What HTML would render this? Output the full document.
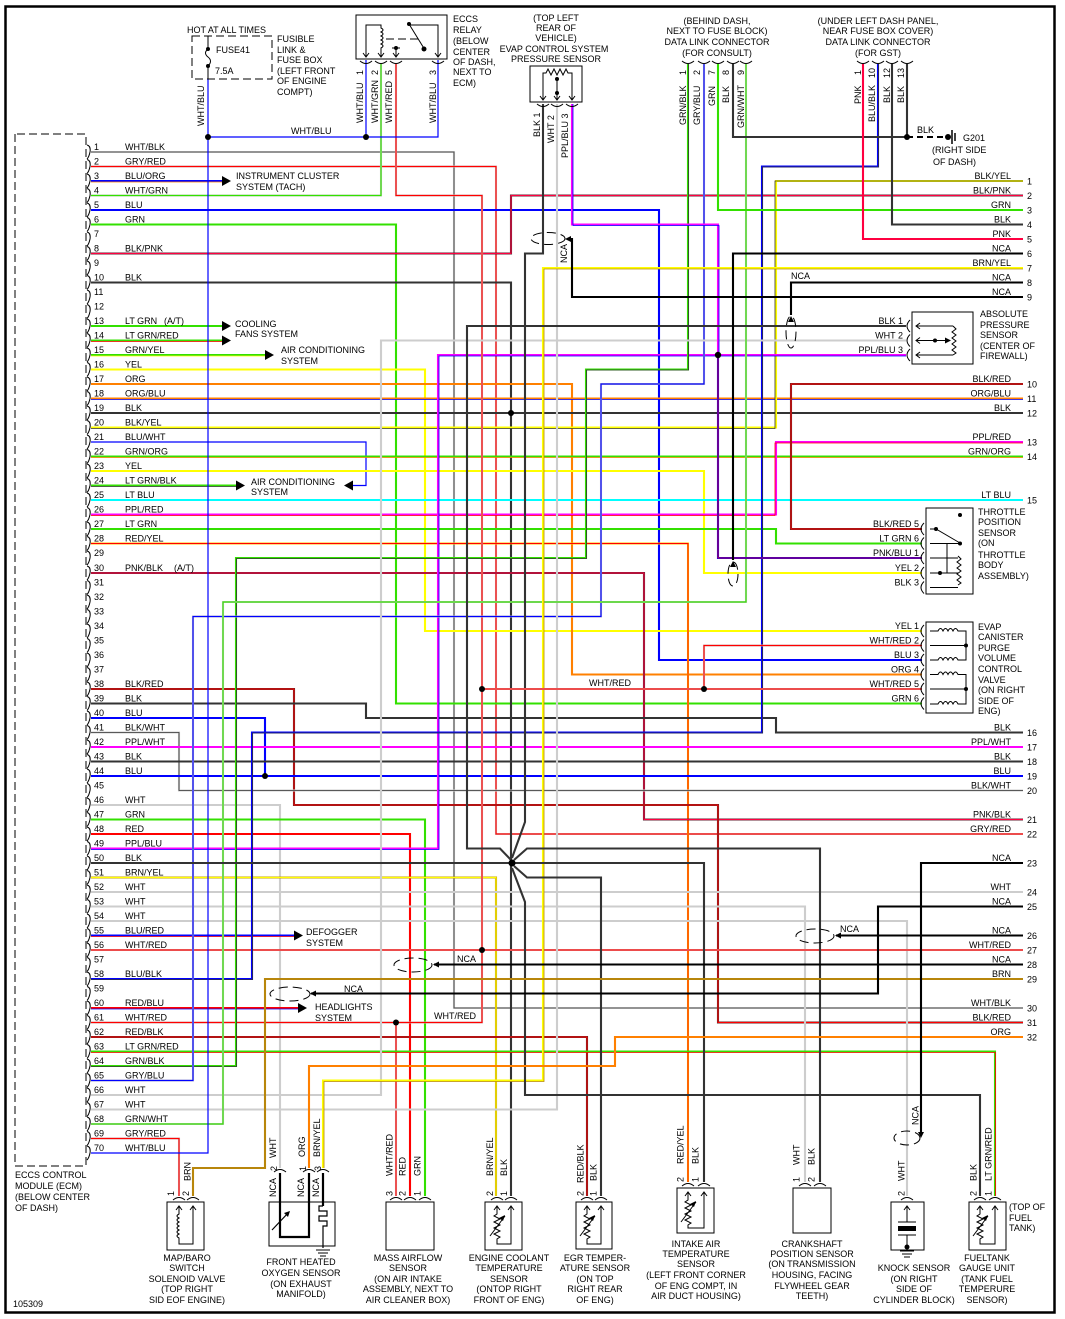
<!DOCTYPE html>
<html><head><meta charset="utf-8">
<style>
html,body{margin:0;padding:0;background:#fff}
svg{display:block}
text{font-family:"Liberation Sans",Arial,sans-serif;font-size:9px;fill:#000}
.l polyline,.l path,.l line{fill:none;stroke-width:2.1;stroke-linejoin:miter}
.K{stroke:#333}.N{stroke:#000}.W{stroke:#cdcdcd}.B{stroke:#0000ff}.G{stroke:#33e000}.R{stroke:#ff0000}.Y{stroke:#ffff00}.O{stroke:#ff8000}.P{stroke:#ff00ff}.C{stroke:#00ffff}.BR{stroke:#b8860b}.PK{stroke:#ff0040}
.l .s{stroke-width:0.8}.l .t{stroke-width:1.2}
.e{fill:none;stroke:#000;stroke-width:1}
.d{fill:none;stroke:#000;stroke-width:1;stroke-dasharray:8 4}
.m{text-anchor:middle}.en{text-anchor:end}
</style></head><body>
<svg width="1065" height="1319" viewBox="0 0 1065 1319" xmlns="http://www.w3.org/2000/svg">
<rect x="0" y="0" width="1065" height="1319" fill="#fff"/>

<g class="l">
<polyline class="W" points="91,152 454,152 454,1008 1023,1008"/><polyline class="K s" points="91,152 454,152 454,1008 1023,1008"/>
<polyline class="W" points="91,166.5 496,166.5 496,834 1023,834"/><polyline class="R t" points="91,166.5 496,166.5 496,834 1023,834"/>
<polyline class="B" points="91,181 223,181"/><polyline class="O s" points="91,182 223,182"/>
<polyline class="W" points="91,195.5 381,195.5 381,64"/><polyline class="G t" points="91,195.5 381,195.5 381,64"/>
<polyline class="B" points="91,210 659,210 659,660 922,660"/>
<polyline class="G" points="91,224.5 396,224.5 396,703.5 922,703.5"/>
<polyline class="K" points="91,253.5 511,253.5 511,195.5 1023,195.5"/><polyline class="PK t" points="91,253.5 511,253.5 511,195.5 1023,195.5"/>
<polyline class="K" points="91,282.5 511,282.5 511,1196"/>
<polyline class="G" points="91,326 223,326"/>
<polyline class="G" points="91,340.5 223,340.5"/><polyline class="R s" points="91,341.5 223,341.5"/>
<polyline class="G" points="91,355 266,355"/><polyline class="Y s" points="91,356 266,356"/>
<polyline class="Y" points="91,369.5 425,369.5 425,631 922,631"/>
<polyline class="O" points="91,384 572,384 572,674.5 922,674.5"/>
<polyline class="O" points="91,398.5 1023,398.5"/><polyline class="B s" points="91,399.5 1023,399.5"/>
<polyline class="K" points="91,413 1023,413"/>
<polyline class="Y" points="91,427.5 776,427.5 776,181 1023,181"/><polyline class="K s" points="91,428.5 775,428.5 775,181 1023,181"/>
<polyline class="B t" points="91,442 366,442 366,485.5 352,485.5"/>
<polyline class="G" points="91,456.5 1023,456.5"/><polyline class="O s" points="91,457.5 1023,457.5"/>
<polyline class="Y" points="91,471 704,471 704,573 922,573"/>
<polyline class="G" points="91,485.5 237,485.5"/><polyline class="K s" points="91,486.5 237,486.5"/>
<polyline class="C" points="91,500 1023,500"/>
<polyline class="P" points="91,514.5 776,514.5 776,442 1023,442"/><polyline class="R s" points="91,515.5 775,515.5 775,443 1023,443"/>
<polyline class="G" points="91,529 776,529 776,543.5 922,543.5"/>
<polyline class="Y" points="91,543.5 688,543.5 688,1182"/><polyline class="R t" points="91,543.5 688,543.5 688,1182"/>
<polyline class="K" points="91,573 644,573 644,819.5 1023,819.5"/><polyline class="PK t" points="91,573 644,573 644,819.5 1023,819.5"/>
<polyline class="K" points="91,689 294,689 294,805 718,805 718,1022.5 1023,1022.5"/><polyline class="R t" points="91,689 294,689 294,805 718,805 718,1022.5 1023,1022.5"/>
<polyline class="K" points="91,703.5 366,703.5 366,718 776,718 776,732.5 1023,732.5"/>
<polyline class="B" points="91,718 265,718 265,776"/>
<polyline class="W" points="91,732.5 179,732.5 179,790.5 1023,790.5"/><polyline class="K s" points="91,732.5 179,732.5 179,790.5 1023,790.5"/>
<polyline class="P" points="91,747 1023,747"/>
<polyline class="K" points="91,761.5 1023,761.5"/>
<polyline class="B" points="91,776 1023,776"/>
<polyline class="W" points="91,805 280,805 280,1168"/>
<polyline class="G" points="91,819.5 425,819.5 425,1196"/>
<polyline class="R" points="91,834 410,834 410,1196"/>
<polyline class="P" points="91,848.5 438,848.5 438,355 906,355"/><polyline class="B s" points="91,849.5 439,849.5 439,356 906,356"/>
<polyline class="BR" points="91,877.5 496,877.5 496,1196"/><polyline class="Y t" points="91,877.5 496,877.5 496,1196"/>
<polyline class="W" points="91,892 1023,892"/>
<polyline class="W" points="91,906.5 805,906.5 805,1182"/>
<polyline class="W" points="91,921 907,921 907,1196"/>
<polyline class="B" points="91,935.5 295,935.5"/><polyline class="R s" points="91,936.5 295,936.5"/>
<polyline class="W" points="91,950 1023,950"/><polyline class="R t" points="91,950 1023,950"/>
<polyline class="B" points="91,979 252,979 252,732.5 762,732.5 762,166.5 878,166.5 878,64"/><polyline class="K s" points="91,979.5 252.5,979.5 252.5,733 762.5,733 762.5,167 878.5,167 878.5,64"/>
<polyline class="R" points="91,1008 299,1008"/><polyline class="B s" points="91,1009 299,1009"/>
<polyline class="W" points="91,1022.5 482,1022.5 482,195.5 396,195.5 396,64"/><polyline class="R t" points="91,1022.5 482,1022.5 482,195.5 396,195.5 396,64"/>
<polyline class="W" points="396,1022.5 396,1196"/><polyline class="R t" points="396,1022.5 396,1196"/>
<polyline class="K" points="91,1037 587,1037 587,1196"/><polyline class="R t" points="91,1037 587,1037 587,1196"/>
<polyline class="G" points="91,1051.5 995,1051.5 995,1196"/><polyline class="R s" points="91,1052.5 995.5,1052.5 995.5,1196"/>
<polyline class="G" points="91,1066 236,1066 236,558 586,558 586,369.5 688,369.5 688,64"/><polyline class="K s" points="91,1066.5 236.5,1066.5 236.5,558.5 586.5,558.5 586.5,370 688.5,370 688.5,64"/>
<polyline class="W" points="91,1080.5 193,1080.5 193,616.5 601,616.5 601,384 704,384 704,64"/><polyline class="B t" points="91,1080.5 193,1080.5 193,616.5 601,616.5 601,384 704,384 704,64"/>
<polyline class="W" points="91,1095 381,1095 381,340.5 906,340.5"/>
<polyline class="W" points="91,1109.5 557,1109.5 557,104"/>
<polyline class="W" points="91,1124 223,1124 223,602 746,602 746,64"/><polyline class="G t" points="91,1124 223,1124 223,602 746,602 746,64"/>
<polyline class="W" points="91,1138.5 179,1138.5 179,1196"/><polyline class="R t" points="91,1138.5 179,1138.5 179,1196"/>
<polyline class="B t" points="91,1153 208,1153 208,79"/>
<polyline class="B t" points="208,137 438,137 438,60"/>
<polyline class="B t" points="366,137 366,60"/>
<polyline class="G" points="718,64 718,210 1023,210"/>
<polyline class="P" points="572,104 572,224.5 718,224.5 718,355"/><polyline class="B s" points="573,104 573,225.5 719,225.5 719,355"/>
<polyline class="B" points="718,355 718,558 922,558"/><polyline class="R s" points="718,355 718,558 922,558"/>
<polyline class="K" points="733,64 733,137 907,137"/>
<polyline class="K" points="907,64 907,137"/>
<polyline class="PK" points="863,64 863,239 1023,239"/>
<polyline class="K" points="892,64 892,224.5 1023,224.5"/>
<polyline class="Y" points="1023,268 543,268 543,1080.5 323,1080.5 323,1168"/><polyline class="BR s" points="1023,269 544,269 544,1081.5 324,1081.5 324,1168"/>
<polyline class="K" points="1023,384 791,384 791,529 922,529"/><polyline class="R t" points="1023,384 791,384 791,529 922,529"/>
<polyline class="K" points="906,326 467,326 467,848.5 500,848.5 511,860"/>
<polyline class="K" points="543,104 543,253.5 525,253.5 525,822 512,858"/>
<polyline class="K" points="514,860 527,848.5 820,848.5 820,1182"/>
<polyline class="K" points="511,863 704,863 704,1182"/>
<polyline class="K" points="91,863 511,863"/>
<polyline class="K" points="514,866 527,877.5 601,877.5 601,1196"/>
<polyline class="K" points="512,868 525,902 525,1095 980,1095 980,1196"/>
<polyline class="W" points="922,645.5 704,645.5 704,689"/><polyline class="R t" points="922,645.5 704,645.5 704,689"/>
<polyline class="W" points="922,689 482,689"/><polyline class="R t" points="922,689 482,689"/>
<polyline class="BR" points="1023,979 265,979 265,1168 193,1168 193,1196"/>
<polyline class="O" points="1023,1037 615,1037 615,1066 309,1066 309,1168"/>
<polyline class="N" points="1023,253.5 733,253.5 733,560"/>
<polyline class="N" points="1023,282.5 791,282.5 791,315"/>
<polyline class="N" points="1023,297 572,297 572,239 567,239"/>
<polyline class="N" points="1023,863 921,863 921,1135"/>
<polyline class="N" points="1023,906.5 878,906.5 878,993.5 311,993.5"/>
<polyline class="N" points="1023,935.5 836,935.5"/>
<polyline class="N" points="1023,964.5 434,964.5"/>
</g>

<g class="d" style="stroke-dasharray:9 5">
<ellipse cx="548" cy="238.5" rx="17" ry="6"/>
<ellipse cx="733" cy="574" rx="5" ry="12"/>
<ellipse cx="791" cy="332" rx="5" ry="16"/>
<ellipse cx="907" cy="1138" rx="13" ry="7"/>
<ellipse cx="290" cy="994" rx="20" ry="7"/>
<ellipse cx="815" cy="936" rx="19" ry="7"/>
<ellipse cx="413" cy="965" rx="19" ry="7"/>
</g>
<g fill="#000">
<polygon points="565,239 571,236 571,242"/>
<polygon points="733,561 730,567 736,567"/>
<polygon points="791,316 788,322 794,322"/>
<polygon points="921,1138 918,1132 924,1132"/>
<polygon points="310,993.5 316,990.5 316,996.5"/>
<polygon points="835,935.5 841,932.5 841,938.5"/>
<polygon points="433,964.5 439,961.5 439,967.5"/>
<polygon points="222,176 231,181 222,186"/>
<polygon points="222,321 231,326 222,331"/>
<polygon points="222,335.5 231,340.5 222,345.5"/>
<polygon points="265,350 274,355 265,360"/>
<polygon points="236,480.5 245,485.5 236,490.5"/>
<polygon points="353,480.5 344,485.5 353,490.5"/>
<polygon points="294,930.5 303,935.5 294,940.5"/>
<polygon points="298,1003 307,1008 298,1013"/>
<circle cx="208" cy="137" r="3"/><circle cx="366" cy="137" r="3"/><circle cx="907" cy="137" r="3"/>
<circle cx="511" cy="413" r="3"/><circle cx="718" cy="355" r="3.2"/><circle cx="265" cy="776" r="3"/>
<circle cx="482" cy="689" r="3"/><circle cx="704" cy="689" r="3"/><circle cx="482" cy="950" r="3"/>
<circle cx="396" cy="1022.5" r="3"/><circle cx="512" cy="863" r="3.5"/>
</g>

<rect x="5.5" y="6.5" width="1049" height="1306" fill="none" stroke="#000" stroke-width="2.5"/>

<path class="d" d="M15 134V1166H86V134H15"/>
<path class="e" d="M87 145q4 1 3 7q-1 5-3 7M87 159.5q4 1 3 7q-1 5-3 7M87 174q4 1 3 7q-1 5-3 7M87 188.5q4 1 3 7q-1 5-3 7M87 203q4 1 3 7q-1 5-3 7M87 217.5q4 1 3 7q-1 5-3 7M87 232q4 1 3 7q-1 5-3 7M87 246.5q4 1 3 7q-1 5-3 7M87 261q4 1 3 7q-1 5-3 7M87 275.5q4 1 3 7q-1 5-3 7M87 290q4 1 3 7q-1 5-3 7M87 304.5q4 1 3 7q-1 5-3 7M87 319q4 1 3 7q-1 5-3 7M87 333.5q4 1 3 7q-1 5-3 7M87 348q4 1 3 7q-1 5-3 7M87 362.5q4 1 3 7q-1 5-3 7M87 377q4 1 3 7q-1 5-3 7M87 391.5q4 1 3 7q-1 5-3 7M87 406q4 1 3 7q-1 5-3 7M87 420.5q4 1 3 7q-1 5-3 7M87 435q4 1 3 7q-1 5-3 7M87 449.5q4 1 3 7q-1 5-3 7M87 464q4 1 3 7q-1 5-3 7M87 478.5q4 1 3 7q-1 5-3 7M87 493q4 1 3 7q-1 5-3 7M87 507.5q4 1 3 7q-1 5-3 7M87 522q4 1 3 7q-1 5-3 7M87 536.5q4 1 3 7q-1 5-3 7M87 551q4 1 3 7q-1 5-3 7M87 566q4 1 3 7q-1 5-3 7M87 580.5q4 1 3 7q-1 5-3 7M87 595q4 1 3 7q-1 5-3 7M87 609.5q4 1 3 7q-1 5-3 7M87 624q4 1 3 7q-1 5-3 7M87 638.5q4 1 3 7q-1 5-3 7M87 653q4 1 3 7q-1 5-3 7M87 667.5q4 1 3 7q-1 5-3 7M87 682q4 1 3 7q-1 5-3 7M87 696.5q4 1 3 7q-1 5-3 7M87 711q4 1 3 7q-1 5-3 7M87 725.5q4 1 3 7q-1 5-3 7M87 740q4 1 3 7q-1 5-3 7M87 754.5q4 1 3 7q-1 5-3 7M87 769q4 1 3 7q-1 5-3 7M87 783.5q4 1 3 7q-1 5-3 7M87 798q4 1 3 7q-1 5-3 7M87 812.5q4 1 3 7q-1 5-3 7M87 827q4 1 3 7q-1 5-3 7M87 841.5q4 1 3 7q-1 5-3 7M87 856q4 1 3 7q-1 5-3 7M87 870.5q4 1 3 7q-1 5-3 7M87 885q4 1 3 7q-1 5-3 7M87 899.5q4 1 3 7q-1 5-3 7M87 914q4 1 3 7q-1 5-3 7M87 928.5q4 1 3 7q-1 5-3 7M87 943q4 1 3 7q-1 5-3 7M87 957.5q4 1 3 7q-1 5-3 7M87 972q4 1 3 7q-1 5-3 7M87 986.5q4 1 3 7q-1 5-3 7M87 1001q4 1 3 7q-1 5-3 7M87 1015.5q4 1 3 7q-1 5-3 7M87 1030q4 1 3 7q-1 5-3 7M87 1044.5q4 1 3 7q-1 5-3 7M87 1059q4 1 3 7q-1 5-3 7M87 1073.5q4 1 3 7q-1 5-3 7M87 1088q4 1 3 7q-1 5-3 7M87 1102.5q4 1 3 7q-1 5-3 7M87 1117q4 1 3 7q-1 5-3 7M87 1131.5q4 1 3 7q-1 5-3 7M87 1146q4 1 3 7q-1 5-3 7"/>

<rect class="d" x="192" y="36" width="80" height="43"/>
<path class="e" d="M208 36V49M208 49q-5 4 0 8q5 4 0 9M208 66V79"/>
<circle cx="208" cy="49" r="2"/><circle cx="208" cy="66" r="2"/>

<rect class="e" x="356" y="15" width="91" height="44"/>
<path class="e" d="M366 57V25H381V28q4 2 0 4q4 2 0 4q4 2 0 4q4 2 0 4q4 2 0 4V57M392 48H400M396 48V57M438 57V25H409M409 24L425 50"/>
<path class="e" style="stroke-dasharray:8 4" d="M386 39H418"/>
<circle cx="409" cy="24" r="2"/><circle cx="424" cy="49" r="2.5"/><circle cx="396" cy="48" r="2"/>
<path class="e" d="M360 61q6 5 12 0M375 61q6 5 12 0M390 61q6 5 12 0M432 61q6 5 12 0M363 53l3 4 3-4M378 53l3 4 3-4M393 53l3 4 3-4M435 53l3 4 3-4"/>

<rect class="e" x="530" y="66" width="52" height="36"/>
<path class="e" d="M543 100V73H546l2-4 3 6 3-6 3 6 3-6 3 6 3-6 2 4H572V100M557 100V79M537 104q6 5 12 0M551 104q6 5 12 0M566 104q6 5 12 0M540 96l3 4 3-4M554 96l3 4 3-4M569 96l3 4 3-4"/>
<circle cx="557" cy="79" r="2"/><circle cx="557" cy="93" r="2"/>

<path class="e" d="M682 61q6 5 12 0M698 61q6 5 12 0M712 61q6 5 12 0M727 61q6 5 12 0M740 61q6 5 12 0M857 61q6 5 12 0M872 61q6 5 12 0M886 61q6 5 12 0M901 61q6 5 12 0"/>

<path d="M907 137H944" stroke="#000" stroke-width="2" stroke-dasharray="6 4"/>
<circle cx="948" cy="137" r="3"/>
<path class="e" d="M952 130V144M955 133V141" style="stroke-width:1.5"/>

<rect class="e" x="912" y="312" width="61" height="52"/>
<path class="e" d="M910 320q-6 6 0 12M910 334.5q-6 6 0 12M910 349q-6 6 0 12M916 326H953M916 355H953M916 340.5H950M920 323l-4 3 4 3M920 337.5l-4 3 4 3M920 352l-4 3 4 3M953 326l3 3-4 3 4 3-4 3 4 3-4 3 4 3-4 3 4 3-3 2"/>
<circle cx="935" cy="340.5" r="2"/><polygon points="951,340.5 945,337.5 945,343.5"/>

<rect class="e" x="926" y="508" width="47" height="86"/>
<path class="e" d="M924 523q-6 6 0 12M924 537.5q-6 6 0 12M924 552q-6 6 0 12M924 567q-6 6 0 12M924 581.5q-6 6 0 12M930 529H936L960 543M930 543.5H961M930 558H958M930 573H958M930 587.5H958M947 543.5V573M958 556l3 3-4 3 4 3-4 3 4 3-4 3 4 3-4 3 4 3-3 2"/>
<circle cx="936" cy="529" r="2"/><circle cx="960" cy="543.5" r="2"/><circle cx="940" cy="573" r="2"/><circle cx="960" cy="515" r="2"/>

<rect class="e" x="926" y="622" width="47" height="91"/>
<path class="e" d="M924 625q-6 6 0 12M924 639.5q-6 6 0 12M924 654q-6 6 0 12M924 668.5q-6 6 0 12M924 683q-6 6 0 12M924 697.5q-6 6 0 12M930 631H938q2.5-5 5 0q2.5-5 5 0q2.5-5 5 0q2.5-5 5 0H966V660H958q-2.5-5-5 0q-2.5-5-5 0q-2.5-5-5 0q-2.5-5-5 0H930M930 645.5H966M930 674.5H938q2.5-5 5 0q2.5-5 5 0q2.5-5 5 0q2.5-5 5 0H966V704H958q-2.5-5-5 0q-2.5-5-5 0q-2.5-5-5 0q-2.5-5-5 0H930M930 689H966"/>
<circle cx="966" cy="645.5" r="2"/><circle cx="966" cy="689" r="2"/>

<g class="e">
<rect x="167" y="1202" width="37" height="48"/>
<path d="M173 1200q6-5 12 0M187 1200q6-5 12 0M179 1206V1214q-4 2 0 4q-4 2 0 4q-4 2 0 4q-4 2 0 4q-4 2 0 4q-4 2 0 4V1244H193V1206M176 1210l3-4 3 4M190 1210l3-4 3 4"/>
<rect x="269" y="1202" width="66" height="44"/>
<path d="M274 1172q6-5 12 0M303 1172q6-5 12 0M317 1172q6-5 12 0"/>
<rect x="386" y="1202" width="48" height="48"/>
<path d="M390 1200q6-5 12 0M404 1200q6-5 12 0M419 1200q6-5 12 0"/>
<rect x="485" y="1202" width="37" height="48"/>
<path d="M491 1200q6-5 12 0M505 1200q6-5 12 0M497 1206V1214l-3 2 6 3-6 3 6 3-6 3 6 3-6 3 6 3-3 2V1244H511V1206M494 1210l3-4 3 4M508 1210l3-4 3 4M490 1236L505 1216"/>
<rect x="576" y="1202" width="36" height="47"/>
<path d="M581 1200q6-5 12 0M595 1200q6-5 12 0M587 1206V1214l-3 2 6 3-6 3 6 3-6 3 6 3-6 3 6 3-3 2V1244H601V1206M584 1210l3-4 3 4M598 1210l3-4 3 4M580 1236L595 1216"/>
<rect x="677" y="1188" width="37" height="45"/>
<path d="M682 1186q6-5 12 0M698 1186q6-5 12 0M688 1192V1200l-3 2 6 3-6 3 6 3-6 3 6 3-6 3 6 3-3 2V1228H704V1192M685 1196l3-4 3 4M701 1196l3-4 3 4M681 1222L696 1202"/>
<rect x="793" y="1188" width="38" height="45"/>
<path d="M799 1186q6-5 12 0M814 1186q6-5 12 0"/>
<rect x="891" y="1202" width="33" height="48"/>
<path d="M901 1200q6-5 12 0M907 1206V1222M898 1222H916M898 1235H916M907 1235V1247M900 1251H914M902 1254H912M904 1257H910M904 1210l3-4 3 4"/>
<rect x="969" y="1202" width="37" height="48"/>
<path d="M974 1200q6-5 12 0M989 1200q6-5 12 0M980 1206V1214l-3 2 6 3-6 3 6 3-6 3 6 3-6 3 6 3-3 2V1244H995V1206M977 1210l3-4 3 4M992 1210l3-4 3 4M973 1236L988 1216"/>
<path d="M316 1250H330M318 1253H328M320 1256H326"/>
</g>
<rect x="898" y="1226" width="18" height="5" fill="#000"/>
<circle cx="907" cy="1247" r="2.5"/>
<path d="M280 1173V1237H309V1173M323 1173V1206" fill="none" stroke="#000" stroke-width="2.2"/>
<path d="M323 1206h-4v5h8v5h-8v5h8v5h-4V1248M272 1230L289 1212" fill="none" stroke="#000" stroke-width="1.2"/>
<polygon points="290,1211 284,1213 288,1217"/>
<polygon points="505,1215 499,1218 503,1221"/><polygon points="595,1215 589,1218 593,1221"/><polygon points="696,1201 690,1204 694,1207"/><polygon points="988,1215 982,1218 986,1221"/>

<text x="187" y="33">HOT AT ALL TIMES</text>
<text x="216" y="53">FUSE41</text>
<text x="215" y="74">7.5A</text>
<text x="277" y="42">FUSIBLE</text><text x="277" y="53">LINK &amp;</text><text x="277" y="63">FUSE BOX</text><text x="277" y="74">(LEFT FRONT</text><text x="277" y="84">OF ENGINE</text><text x="277" y="95">COMPT)</text>
<text transform="translate(204,126) rotate(-90)">WHT/BLU</text>
<text x="291" y="134">WHT/BLU</text>
<text x="453" y="22">ECCS</text><text x="453" y="33">RELAY</text><text x="453" y="44">(BELOW</text><text x="453" y="55">CENTER</text><text x="453" y="65">OF DASH,</text><text x="453" y="75">NEXT TO</text><text x="453" y="86">ECM)</text>
<text transform="translate(363,75) rotate(-90)">1</text><text transform="translate(378,75) rotate(-90)">2</text><text transform="translate(392,75) rotate(-90)">5</text><text transform="translate(436,75) rotate(-90)">3</text>
<text transform="translate(363,123) rotate(-90)">WHT/BLU</text><text transform="translate(378,123) rotate(-90)">WHT/GRN</text><text transform="translate(392,123) rotate(-90)">WHT/RED</text><text transform="translate(436,123) rotate(-90)">WHT/BLU</text>
<text class="m" x="556" y="21">(TOP LEFT</text><text class="m" x="556" y="31">REAR OF</text><text class="m" x="556" y="41">VEHICLE)</text><text class="m" x="554" y="52">EVAP CONTROL SYSTEM</text><text class="m" x="556" y="62">PRESSURE SENSOR</text>
<text transform="translate(540,137) rotate(-90)">BLK 1</text><text transform="translate(554,143) rotate(-90)">WHT 2</text><text transform="translate(568,158) rotate(-90)">PPL/BLU 3</text>
<text transform="translate(567,263) rotate(-90)">NCA</text>
<text class="m" x="717" y="24">(BEHIND DASH,</text><text class="m" x="717" y="34">NEXT TO FUSE BLOCK)</text><text class="m" x="717" y="45">DATA LINK CONNECTOR</text><text class="m" x="717" y="56">(FOR CONSULT)</text>
<text transform="translate(686,75) rotate(-90)">1</text><text transform="translate(700,75) rotate(-90)">2</text><text transform="translate(715,75) rotate(-90)">7</text><text transform="translate(729,75) rotate(-90)">8</text><text transform="translate(744,75) rotate(-90)">9</text>
<text transform="translate(686,125) rotate(-90)">GRN/BLK</text><text transform="translate(700,125) rotate(-90)">GRY/BLU</text><text transform="translate(715,106) rotate(-90)">GRN</text><text transform="translate(729,103) rotate(-90)">BLK</text><text transform="translate(744,128) rotate(-90)">GRN/WHT</text>
<text class="m" x="878" y="24">(UNDER LEFT DASH PANEL,</text><text class="m" x="878" y="34">NEAR FUSE BOX  COVER)</text><text class="m" x="878" y="45">DATA LINK CONNECTOR</text><text class="m" x="878" y="56">(FOR GST)</text>
<text transform="translate(861,75) rotate(-90)">1</text><text transform="translate(875,78) rotate(-90)">10</text><text transform="translate(890,78) rotate(-90)">12</text><text transform="translate(904,78) rotate(-90)">13</text>
<text transform="translate(861,104) rotate(-90)">PNK</text><text transform="translate(875,122) rotate(-90)">BLU/BLK</text><text transform="translate(890,103) rotate(-90)">BLK</text><text transform="translate(904,103) rotate(-90)">BLK</text>
<text x="917" y="133">BLK</text><text x="963" y="141">G201</text><text x="932" y="153">(RIGHT SIDE</text><text x="933" y="165">OF DASH)</text>

<text x="236" y="179">INSTRUMENT CLUSTER</text><text x="236" y="190">SYSTEM (TACH)</text>
<text x="235" y="327">COOLING</text><text x="235" y="337">FANS SYSTEM</text>
<text x="281" y="353">AIR CONDITIONING</text><text x="281" y="364">SYSTEM</text>
<text x="251" y="485">AIR CONDITIONING</text><text x="251" y="495">SYSTEM</text>
<text x="306" y="935">DEFOGGER</text><text x="306" y="946">SYSTEM</text>
<text x="315" y="1010">HEADLIGHTS</text><text x="315" y="1021">SYSTEM</text>
<text x="434" y="1019">WHT/RED</text>
<text x="589" y="686">WHT/RED</text>
<text x="791" y="279">NCA</text>
<text x="840" y="932">NCA</text>
<text x="457" y="962">NCA</text>
<text x="344" y="992">NCA</text>
<text transform="translate(918.5,1125) rotate(-90)">NCA</text>

<g>
<text x="94" y="150">1</text><text x="125" y="150">WHT/BLK</text>
<text x="94" y="164.5">2</text><text x="125" y="164.5">GRY/RED</text>
<text x="94" y="179">3</text><text x="125" y="179">BLU/ORG</text>
<text x="94" y="193.5">4</text><text x="125" y="193.5">WHT/GRN</text>
<text x="94" y="208">5</text><text x="125" y="208">BLU</text>
<text x="94" y="222.5">6</text><text x="125" y="222.5">GRN</text>
<text x="94" y="237">7</text>
<text x="94" y="251.5">8</text><text x="125" y="251.5">BLK/PNK</text>
<text x="94" y="266">9</text>
<text x="94" y="280.5">10</text><text x="125" y="280.5">BLK</text>
<text x="94" y="295">11</text>
<text x="94" y="309.5">12</text>
<text x="94" y="324">13</text><text x="125" y="324">LT GRN</text><text x="164" y="324">(A/T)</text>
<text x="94" y="338.5">14</text><text x="125" y="338.5">LT GRN/RED</text>
<text x="94" y="353">15</text><text x="125" y="353">GRN/YEL</text>
<text x="94" y="367.5">16</text><text x="125" y="367.5">YEL</text>
<text x="94" y="382">17</text><text x="125" y="382">ORG</text>
<text x="94" y="396.5">18</text><text x="125" y="396.5">ORG/BLU</text>
<text x="94" y="411">19</text><text x="125" y="411">BLK</text>
<text x="94" y="425.5">20</text><text x="125" y="425.5">BLK/YEL</text>
<text x="94" y="440">21</text><text x="125" y="440">BLU/WHT</text>
<text x="94" y="454.5">22</text><text x="125" y="454.5">GRN/ORG</text>
<text x="94" y="469">23</text><text x="125" y="469">YEL</text>
<text x="94" y="483.5">24</text><text x="125" y="483.5">LT GRN/BLK</text>
<text x="94" y="498">25</text><text x="125" y="498">LT BLU</text>
<text x="94" y="512.5">26</text><text x="125" y="512.5">PPL/RED</text>
<text x="94" y="527">27</text><text x="125" y="527">LT GRN</text>
<text x="94" y="541.5">28</text><text x="125" y="541.5">RED/YEL</text>
<text x="94" y="556">29</text>
<text x="94" y="571">30</text><text x="125" y="571">PNK/BLK</text><text x="174" y="571">(A/T)</text>
<text x="94" y="585.5">31</text>
<text x="94" y="600">32</text>
<text x="94" y="614.5">33</text>
<text x="94" y="629">34</text>
<text x="94" y="643.5">35</text>
<text x="94" y="658">36</text>
<text x="94" y="672.5">37</text>
<text x="94" y="687">38</text><text x="125" y="687">BLK/RED</text>
<text x="94" y="701.5">39</text><text x="125" y="701.5">BLK</text>
<text x="94" y="716">40</text><text x="125" y="716">BLU</text>
<text x="94" y="730.5">41</text><text x="125" y="730.5">BLK/WHT</text>
<text x="94" y="745">42</text><text x="125" y="745">PPL/WHT</text>
<text x="94" y="759.5">43</text><text x="125" y="759.5">BLK</text>
<text x="94" y="774">44</text><text x="125" y="774">BLU</text>
<text x="94" y="788.5">45</text>
<text x="94" y="803">46</text><text x="125" y="803">WHT</text>
<text x="94" y="817.5">47</text><text x="125" y="817.5">GRN</text>
<text x="94" y="832">48</text><text x="125" y="832">RED</text>
<text x="94" y="846.5">49</text><text x="125" y="846.5">PPL/BLU</text>
<text x="94" y="861">50</text><text x="125" y="861">BLK</text>
<text x="94" y="875.5">51</text><text x="125" y="875.5">BRN/YEL</text>
<text x="94" y="890">52</text><text x="125" y="890">WHT</text>
<text x="94" y="904.5">53</text><text x="125" y="904.5">WHT</text>
<text x="94" y="919">54</text><text x="125" y="919">WHT</text>
<text x="94" y="933.5">55</text><text x="125" y="933.5">BLU/RED</text>
<text x="94" y="948">56</text><text x="125" y="948">WHT/RED</text>
<text x="94" y="962.5">57</text>
<text x="94" y="977">58</text><text x="125" y="977">BLU/BLK</text>
<text x="94" y="991.5">59</text>
<text x="94" y="1006">60</text><text x="125" y="1006">RED/BLU</text>
<text x="94" y="1020.5">61</text><text x="125" y="1020.5">WHT/RED</text>
<text x="94" y="1035">62</text><text x="125" y="1035">RED/BLK</text>
<text x="94" y="1049.5">63</text><text x="125" y="1049.5">LT GRN/RED</text>
<text x="94" y="1064">64</text><text x="125" y="1064">GRN/BLK</text>
<text x="94" y="1078.5">65</text><text x="125" y="1078.5">GRY/BLU</text>
<text x="94" y="1093">66</text><text x="125" y="1093">WHT</text>
<text x="94" y="1107.5">67</text><text x="125" y="1107.5">WHT</text>
<text x="94" y="1122">68</text><text x="125" y="1122">GRN/WHT</text>
<text x="94" y="1136.5">69</text><text x="125" y="1136.5">GRY/RED</text>
<text x="94" y="1151">70</text><text x="125" y="1151">WHT/BLU</text>
</g>

<g class="en">
<text x="1011" y="179">BLK/YEL</text><text x="1011" y="193.5">BLK/PNK</text><text x="1011" y="208">GRN</text><text x="1011" y="222.5">BLK</text><text x="1011" y="237">PNK</text><text x="1011" y="251.5">NCA</text><text x="1011" y="266">BRN/YEL</text><text x="1011" y="280.5">NCA</text><text x="1011" y="295">NCA</text>
<text x="1011" y="382">BLK/RED</text><text x="1011" y="396.5">ORG/BLU</text><text x="1011" y="411">BLK</text><text x="1011" y="440">PPL/RED</text><text x="1011" y="454.5">GRN/ORG</text><text x="1011" y="498">LT BLU</text>
<text x="1011" y="730.5">BLK</text><text x="1011" y="745">PPL/WHT</text><text x="1011" y="759.5">BLK</text><text x="1011" y="774">BLU</text><text x="1011" y="788.5">BLK/WHT</text><text x="1011" y="817.5">PNK/BLK</text><text x="1011" y="832">GRY/RED</text>
<text x="1011" y="861">NCA</text><text x="1011" y="890">WHT</text><text x="1011" y="904.5">NCA</text><text x="1011" y="933.5">NCA</text><text x="1011" y="948">WHT/RED</text><text x="1011" y="962.5">NCA</text><text x="1011" y="977">BRN</text><text x="1011" y="1006">WHT/BLK</text><text x="1011" y="1020.5">BLK/RED</text><text x="1011" y="1035">ORG</text>
<text x="903" y="324">BLK 1</text><text x="903" y="338.5">WHT 2</text><text x="903" y="353">PPL/BLU 3</text>
<text x="919" y="527">BLK/RED 5</text><text x="919" y="541.5">LT GRN 6</text><text x="919" y="556">PNK/BLU 1</text><text x="919" y="571">YEL 2</text><text x="919" y="585.5">BLK 3</text>
<text x="919" y="629">YEL 1</text><text x="919" y="643.5">WHT/RED 2</text><text x="919" y="658">BLU 3</text><text x="919" y="672.5">ORG 4</text><text x="919" y="687">WHT/RED 5</text><text x="919" y="701.5">GRN 6</text>
</g>
<g>
<text x="1027" y="184.5">1</text><text x="1027" y="199">2</text><text x="1027" y="213.5">3</text><text x="1027" y="228">4</text><text x="1027" y="242.5">5</text><text x="1027" y="257">6</text><text x="1027" y="271.5">7</text><text x="1027" y="286">8</text><text x="1027" y="300.5">9</text>
<text x="1027" y="387.5">10</text><text x="1027" y="402">11</text><text x="1027" y="416.5">12</text><text x="1027" y="445.5">13</text><text x="1027" y="460">14</text><text x="1027" y="503.5">15</text>
<text x="1027" y="736">16</text><text x="1027" y="750.5">17</text><text x="1027" y="765">18</text><text x="1027" y="779.5">19</text><text x="1027" y="794">20</text><text x="1027" y="823">21</text><text x="1027" y="837.5">22</text>
<text x="1027" y="866.5">23</text><text x="1027" y="895.5">24</text><text x="1027" y="910">25</text><text x="1027" y="939">26</text><text x="1027" y="953.5">27</text><text x="1027" y="968">28</text><text x="1027" y="982.5">29</text><text x="1027" y="1011.5">30</text><text x="1027" y="1026">31</text><text x="1027" y="1040.5">32</text>
</g>

<text x="980" y="317">ABSOLUTE</text><text x="980" y="328">PRESSURE</text><text x="980" y="338">SENSOR</text><text x="980" y="349">(CENTER OF</text><text x="980" y="359">FIREWALL)</text>
<text x="978" y="515">THROTTLE</text><text x="978" y="525">POSITION</text><text x="978" y="536">SENSOR</text><text x="978" y="546">(ON</text><text x="978" y="558">THROTTLE</text><text x="978" y="568">BODY</text><text x="978" y="579">ASSEMBLY)</text>
<text x="978" y="630">EVAP</text><text x="978" y="640">CANISTER</text><text x="978" y="651">PURGE</text><text x="978" y="661">VOLUME</text><text x="978" y="672">CONTROL</text><text x="978" y="683">VALVE</text><text x="978" y="693">(ON RIGHT</text><text x="978" y="704">SIDE OF</text><text x="978" y="714">ENG)</text>

<text transform="translate(174,1196) rotate(-90)">1</text><text transform="translate(189,1196) rotate(-90)">2</text><text transform="translate(190.5,1181) rotate(-90)">BRN</text>
<text transform="translate(277,1171) rotate(-90)">2</text><text transform="translate(306,1171) rotate(-90)">1</text><text transform="translate(321,1171) rotate(-90)">3</text>
<text transform="translate(276,1158) rotate(-90)">WHT</text><text transform="translate(305,1157) rotate(-90)">ORG</text><text transform="translate(320,1157) rotate(-90)">BRN/YEL</text>
<text transform="translate(276,1197) rotate(-90)">NCA</text><text transform="translate(304,1197) rotate(-90)">NCA</text><text transform="translate(319,1197) rotate(-90)">NCA</text>
<text transform="translate(392.5,1196) rotate(-90)">3</text><text transform="translate(405.5,1196) rotate(-90)">2</text><text transform="translate(420.5,1196) rotate(-90)">1</text>
<text transform="translate(392.5,1176) rotate(-90)">WHT/RED</text><text transform="translate(405.5,1176) rotate(-90)">RED</text><text transform="translate(420.5,1176) rotate(-90)">GRN</text>
<text transform="translate(493,1196) rotate(-90)">2</text><text transform="translate(507,1196) rotate(-90)">1</text>
<text transform="translate(493,1176) rotate(-90)">BRN/YEL</text><text transform="translate(507,1176) rotate(-90)">BLK</text>
<text transform="translate(583.5,1196) rotate(-90)">2</text><text transform="translate(596.5,1196) rotate(-90)">1</text>
<text transform="translate(583.5,1183) rotate(-90)">RED/BLK</text><text transform="translate(596.5,1181) rotate(-90)">BLK</text>
<text transform="translate(683.5,1182) rotate(-90)">2</text><text transform="translate(698.5,1182) rotate(-90)">1</text>
<text transform="translate(683.5,1164) rotate(-90)">RED/YEL</text><text transform="translate(698.5,1164) rotate(-90)">BLK</text>
<text transform="translate(799.5,1182) rotate(-90)">1</text><text transform="translate(814.5,1182) rotate(-90)">2</text>
<text transform="translate(799.5,1165) rotate(-90)">WHT</text><text transform="translate(814.5,1165) rotate(-90)">BLK</text>
<text transform="translate(904.5,1196) rotate(-90)">2</text><text transform="translate(904.5,1181) rotate(-90)">WHT</text>
<text transform="translate(976.5,1196) rotate(-90)">2</text><text transform="translate(991.5,1196) rotate(-90)">1</text>
<text transform="translate(976.5,1181) rotate(-90)">BLK</text><text transform="translate(991.5,1181) rotate(-90)">LT GRN/RED</text>

<text x="15" y="1178">ECCS CONTROL</text><text x="15" y="1189">MODULE (ECM)</text><text x="15" y="1200">(BELOW CENTER</text><text x="15" y="1211">OF DASH)</text>
<text x="13" y="1307">105309</text>
<g class="m">
<text x="187" y="1261">MAP/BARO</text><text x="187" y="1271">SWITCH</text><text x="187" y="1282">SOLENOID VALVE</text><text x="187" y="1292">(TOP RIGHT</text><text x="187" y="1303">SID EOF ENGINE)</text>
<text x="301" y="1265">FRONT HEATED</text><text x="301" y="1276">OXYGEN SENSOR</text><text x="301" y="1287">(ON EXHAUST</text><text x="301" y="1297">MANIFOLD)</text>
<text x="408" y="1261">MASS AIRFLOW</text><text x="408" y="1271">SENSOR</text><text x="408" y="1282">(ON AIR INTAKE</text><text x="408" y="1292">ASSEMBLY, NEXT TO</text><text x="408" y="1303">AIR CLEANER BOX)</text>
<text x="509" y="1261">ENGINE COOLANT</text><text x="509" y="1271">TEMPERATURE</text><text x="509" y="1282">SENSOR</text><text x="509" y="1292">(ONTOP RIGHT</text><text x="509" y="1303">FRONT OF ENG)</text>
<text x="595" y="1261">EGR TEMPER-</text><text x="595" y="1271">ATURE SENSOR</text><text x="595" y="1282">(ON TOP</text><text x="595" y="1292">RIGHT REAR</text><text x="595" y="1303">OF ENG)</text>
<text x="696" y="1247">INTAKE AIR</text><text x="696" y="1257">TEMPERATURE</text><text x="696" y="1267">SENSOR</text><text x="696" y="1278">(LEFT FRONT CORNER</text><text x="696" y="1289">OF ENG COMPT, IN</text><text x="696" y="1299">AIR DUCT HOUSING)</text>
<text x="812" y="1247">CRANKSHAFT</text><text x="812" y="1257">POSITION SENSOR</text><text x="812" y="1267">(ON TRANSMISSION</text><text x="812" y="1278">HOUSING, FACING</text><text x="812" y="1289">FLYWHEEL GEAR</text><text x="812" y="1299">TEETH)</text>
<text x="914" y="1271">KNOCK SENSOR</text><text x="914" y="1282">(ON RIGHT</text><text x="914" y="1292">SIDE OF</text><text x="914" y="1303">CYLINDER BLOCK)</text>
<text x="987" y="1261">FUELTANK</text><text x="987" y="1271">GAUGE UNIT</text><text x="987" y="1282">(TANK FUEL</text><text x="987" y="1292">TEMPERURE</text><text x="987" y="1303">SENSOR)</text>
</g>
<text x="1009" y="1210">(TOP OF</text><text x="1009" y="1221">FUEL</text><text x="1009" y="1231">TANK)</text>
</svg>
</body></html>
